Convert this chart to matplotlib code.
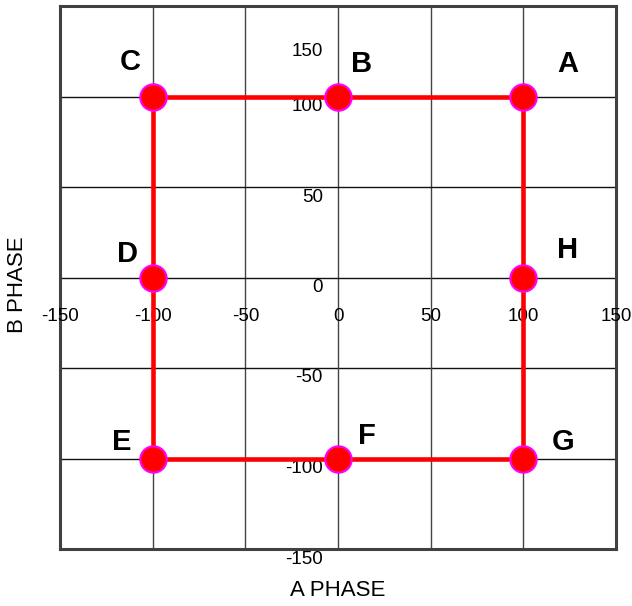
#import Libraries
import matplotlib
matplotlib.use("Agg")
from matplotlib import pyplot as plt
##################################################

# data: corners of the A/B phase square, walked A -> H
point_names = ["A", "B", "C", "D", "E", "F", "G", "H"]
a_phase = [100, 0, -100, -100, -100, 0, 100, 100]
b_phase = [100, 100, 100, 0, -100, -100, -100, 0]
ticks = [-150, -100, -50, 0, 50, 100, 150]

# where each letter sits relative to its point (pixels)
name_offsets = {"A": (44, 32), "B": (24, 32), "C": (-22, 34), "D": (-25, 23),
                "E": (-31, 17), "F": (29, 23), "G": (40, 17), "H": (44, 28)}
##################################################

plt.rcParams['font.family'] = ['Liberation Sans', 'DejaVu Sans']

fig = plt.figure(figsize=(6.32, 6.06), dpi=100)
ax = fig.add_axes([60/632, 1-549/606, 556/632, 543/606])
ax.set_xlim(-150, 150)
ax.set_ylim(-150, 150)

#grid every 50, no default ticks
for t in ticks:
    ax.axvline(t, color='#444444', lw=1, zorder=1)
    ax.axhline(t, color='#111111', lw=1, zorder=1)
ax.set_xticks([])
ax.set_yticks([])
for s in ax.spines.values():
    s.set_color('#404040')
    s.set_linewidth(2.2)
##################################################

#tick labels drawn along the centre lines
for t in ticks:
    ax.annotate(str(t), xy=(t, 0), xytext=(0, -39), textcoords='offset pixels',
                ha='center', va='center', fontsize=13.5, annotation_clip=False)
    dy = -46 if t == 150 else -10
    ax.annotate(str(t), xy=(0, t), xytext=(-15, dy), textcoords='offset pixels',
                ha='right', va='center', fontsize=13.5, annotation_clip=False)
##################################################

#the closed square path and its corner markers
ax.plot(a_phase + a_phase[:1], b_phase + b_phase[:1], color='#ff0000', lw=3.3,
        zorder=3, solid_capstyle='butt')
ax.plot(a_phase, b_phase, 'o', ms=19, mfc='#ff0000', mec='#ff00ff', mew=1.5,
        zorder=4, clip_on=False)

for name, x, y in zip(point_names, a_phase, b_phase):
    ax.annotate(name, xy=(x, y), xytext=name_offsets[name], textcoords='offset pixels',
                ha='center', va='center', fontsize=21, fontweight='bold')
##################################################

fig.text(338/632, 1-590/606, "A PHASE", ha='center', va='center', fontsize=16)
fig.text(18/632, 1-285/606, "B PHASE", ha='center', va='center', fontsize=16,
         rotation=90)

plt.savefig("out.png", dpi=100)
